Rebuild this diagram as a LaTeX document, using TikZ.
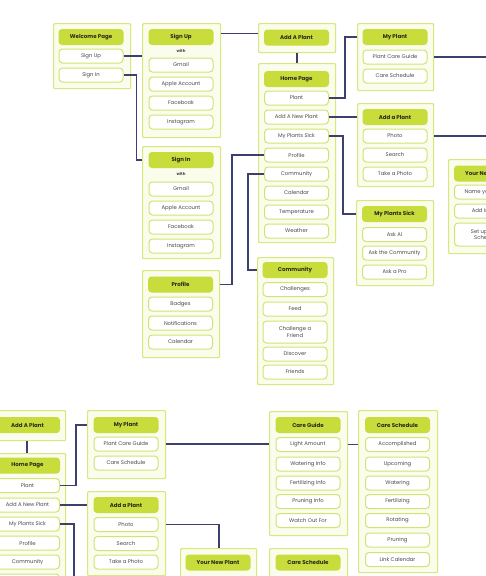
\documentclass[tikz,border=0pt]{standalone}
\usepackage{fontspec}
\setmainfont{Poppins}
\definecolor{contLine}{HTML}{D8E77F}
\definecolor{contFill}{HTML}{FAFCEC}
\definecolor{hdrLime}{HTML}{C8DC3C}
\definecolor{itemLine}{HTML}{D2E375}
\definecolor{itemText}{HTML}{4A4A4A}
\definecolor{hdrText}{HTML}{2B2B1A}
\definecolor{connCol}{HTML}{3D3F6E}
\begin{document}
\begin{tikzpicture}[x=1pt,y=-1pt,
  cont/.style={draw=contLine, fill=contFill, line width=1.2pt, anchor=north west, inner sep=0pt, rounded corners=1pt},
  hdr/.style={fill=hdrLime, rounded corners=3.5pt, minimum width=65pt, minimum height=16pt, inner sep=0pt, font=\fontsize{5.5}{6}\selectfont\bfseries, text=hdrText},
  itm/.style={draw=itemLine, fill=white, rounded corners=3.5pt, line width=1pt, minimum width=64pt, minimum height=14pt, inner sep=0pt, font=\fontsize{5.3}{6.2}\selectfont, text=itemText, align=center},
  wth/.style={font=\fontsize{4}{5}\selectfont\bfseries, text=itemText, inner sep=0pt},
  conn/.style={draw=connCol, line width=1.5pt}
]
\useasboundingbox (0,0) rectangle (486,576);
\clip (0,0) rectangle (486,576);
\fill[white] (0,0) rectangle (486,576);

% ---------- top: welcome ----------
\node[cont, minimum width=77pt, minimum height=65pt] (wC) at (53,23) {};
\node[hdr] (wH) at (91,37) {Welcome Page};
\node[itm] (wSU) at (91,56) {Sign Up};
\node[itm] (wSI) at (91,75) {Sign In};

% sign up
\node[cont, minimum width=78pt, minimum height=114pt] (suC) at (142,23) {};
\node[hdr] (suH) at (181,37) {Sign Up};
\node[wth] (suW) at (181,51) {with};
\node[itm] (suG) at (181,65) {Gmail};
\node[itm] (suA) at (181,84) {Apple Account};
\node[itm] (suF) at (181,103) {Facebook};
\node[itm] (suI) at (181,122) {Instagram};

% sign in
\node[cont, minimum width=78pt, minimum height=112pt] (siC) at (142,146) {};
\node[hdr] (siH) at (181,160) {Sign In};
\node[wth] (siW) at (181,174) {with};
\node[itm] (siG) at (181,189) {Gmail};
\node[itm] (siA) at (181,208) {Apple Account};
\node[itm] (siF) at (181,227) {Facebook};
\node[itm] (siI) at (181,246) {Instagram};

% add a plant (top)
\node[cont, minimum width=77pt, minimum height=29pt] (apC) at (258,23) {};
\node[hdr] (apH) at (296.5,37.5) {Add A Plant};

% home page (top)
\node[cont, minimum width=77pt, minimum height=179pt] (hpC) at (258,63) {};
\node[hdr] (hpH) at (296.5,79) {Home Page};
\node[itm] (hpPl) at (296.5,98) {Plant};
\node[itm] (hpAN) at (296.5,117) {Add A New Plant};
\node[itm] (hpMS) at (296.5,136) {My Plants Sick};
\node[itm] (hpPr) at (296.5,155) {Profile};
\node[itm] (hpCm) at (296.5,174) {Community};
\node[itm] (hpCa) at (296.5,193) {Calendar};
\node[itm] (hpTe) at (296.5,212) {Temperature};
\node[itm] (hpWe) at (296.5,231) {Weather};

% my plant (top)
\node[cont, minimum width=76pt, minimum height=67pt] (mpC) at (357,23) {};
\node[hdr] (mpH) at (395,37) {My Plant};
\node[itm] (mpG) at (395,57) {Plant Care Guide};
\node[itm] (mpS) at (395,76) {Care Schedule};

% add a plant (right)
\node[cont, minimum width=76pt, minimum height=83pt] (arC) at (357,103) {};
\node[hdr] (arH) at (395,117) {Add a Plant};
\node[itm] (arP) at (395,136) {Photo};
\node[itm] (arS) at (395,155) {Search};
\node[itm] (arT) at (395,174) {Take a Photo};

% my plants sick
\node[cont, minimum width=77pt, minimum height=85pt] (msC) at (356,200) {};
\node[hdr] (msH) at (394.5,214) {My Plants Sick};
\node[itm] (msA) at (394.5,234.5) {Ask AI};
\node[itm] (msCo) at (394.5,253) {Ask the Community};
\node[itm] (msP) at (394.5,272) {Ask a Pro};

% your new plant (cut by the right edge, as in the reference)
\node[cont, minimum width=77pt, minimum height=94pt] (ynC) at (448,159) {};
\node[hdr] (ynH) at (486.5,173.5) {Your New Plant};
\node[itm] (ynN) at (486.5,192) {Name your Plant};
\node[itm] (ynA) at (486.5,211) {Add Image};
\node[itm, minimum height=23pt] (ynS) at (486.5,234.5) {Set up Care\\Schedule};

% profile
\node[cont, minimum width=77pt, minimum height=87pt] (prC) at (142,270) {};
\node[hdr] (prH) at (180.5,284.5) {Profile};
\node[itm] (prB) at (180.5,304) {Badges};
\node[itm] (prN) at (180.5,323) {Notifications};
\node[itm] (prCa) at (180.5,342) {Calendar};

% community
\node[cont, minimum width=76pt, minimum height=127pt] (cmC) at (257,257) {};
\node[hdr] (cmH) at (295,270) {Community};
\node[itm] (cmCh) at (295,289.5) {Challenges};
\node[itm] (cmF) at (295,309) {Feed};
\node[itm, minimum height=22pt] (cmCF) at (295,332) {Challenge a\\Friend};
\node[itm] (cmD) at (295,354) {Discover};
\node[itm] (cmFr) at (295,372) {Friends};

% ---------- bottom ----------
\node[cont, minimum width=77pt, minimum height=30pt] (bApC) at (-12,410) {};
\node[hdr] (bApH) at (27.5,425) {Add A Plant};

\node[cont, minimum width=77pt, minimum height=140pt] (bHpC) at (-12,453) {};
\node[hdr] (bHpH) at (27.5,465.5) {Home Page};
\node[itm] (bHpPl) at (27.5,485.5) {Plant};
\node[itm] (bHpAN) at (27.5,505) {Add A New Plant};
\node[itm] (bHpMS) at (27.5,524) {My Plants Sick};
\node[itm] (bHpPr) at (27.5,543) {Profile};
\node[itm] (bHpCm) at (27.5,562) {Community};
\node[itm] (bHpCa) at (27.5,581) {Calendar};

\node[cont, minimum width=78pt, minimum height=68pt] (bMpC) at (87,410) {};
\node[hdr] (bMpH) at (126,425) {My Plant};
\node[itm] (bMpG) at (126,444) {Plant Care Guide};
\node[itm] (bMpS) at (126,463) {Care Schedule};

\node[cont, minimum width=78pt, minimum height=84pt] (bArC) at (87,491) {};
\node[hdr] (bArH) at (126,505) {Add a Plant};
\node[itm] (bArP) at (126,524.5) {Photo};
\node[itm] (bArS) at (126,543.5) {Search};
\node[itm] (bArT) at (126,562) {Take a Photo};

\node[cont, minimum width=76pt, minimum height=40pt] (bYnC) at (180,548) {};
\node[hdr] (bYnH) at (218,562.5) {Your New Plant};

\node[cont, minimum width=78pt, minimum height=124pt] (cgC) at (269,411) {};
\node[hdr] (cgH) at (308,425) {Care Guide};
\node[itm] (cgL) at (308,444.5) {Light Amount};
\node[itm] (cgW) at (308,464) {Watering Info};
\node[itm] (cgF) at (308,483) {Fertilizing Info};
\node[itm] (cgP) at (308,501.5) {Pruning Info};
\node[itm] (cgO) at (308,520.5) {Watch Out For};

\node[cont, minimum width=78pt, minimum height=40pt] (bCsC) at (269,548) {};
\node[hdr] (bCsH) at (308,562.5) {Care Schedule};

\node[cont, minimum width=79pt, minimum height=162pt] (csC) at (358,410) {};
\node[hdr] (csH) at (397.5,425) {Care Schedule};
\node[itm] (csA) at (397.5,444.5) {Accomplished};
\node[itm] (csU) at (397.5,464) {Upcoming};
\node[itm] (csW) at (397.5,483) {Watering};
\node[itm] (csF) at (397.5,501.5) {Fertilizing};
\node[itm] (csR) at (397.5,520.5) {Rotating};
\node[itm] (csP) at (397.5,540) {Pruning};
\node[itm] (csL) at (397.5,559.5) {Link Calendar};

% ---------- connectors ----------
\coordinate (edgeR) at (495,0);
\coordinate (edgeB) at (0,590);
\coordinate (apIn) at ([yshift=4.5pt]apC.west);
\coordinate (k1) at (345,0);
\coordinate (k2) at (343,0);
\coordinate (k3) at (232,0);
\coordinate (k4) at (248,0);
\coordinate (k5) at (76,0);
\coordinate (k6) at (74,0);
\coordinate (k7) at (219,0);

\draw[conn] (wSU.east) -- (wSU.east -| suC.west);
\draw[conn] (wSI.east) -- ++(13,0) |- (siH -| siC.west);
\draw[conn] (apIn) -- (apIn -| suC.east);
\draw[conn] (apC.south) -- (hpC.north);
\draw[conn] (hpPl.east) -| (k1 |- mpH) -- (mpH -| mpC.west);
\draw[conn] (mpG -| mpC.east) -- (mpG -| edgeR);
\draw[conn] (hpAN.east) -- (hpAN.east -| arC.west);
\draw[conn] (arP -| arC.east) -- (arP -| edgeR);
\draw[conn] (hpMS.east) -| (k2 |- msH) -- (msH -| msC.west);
\draw[conn] (hpPr.west) -| (k3 |- prH) -- (prH -| prC.east);
\draw[conn] (hpCm.west) -| (k4 |- cmH) -- (cmH -| cmC.west);

\draw[conn] (bApC.south) -- (bHpC.north);
\draw[conn] (bHpPl.east) -| (k5 |- bMpH) -- (bMpH -| bMpC.west);
\draw[conn] (bHpAN.east) -- (bHpAN.east -| bArC.west);
\draw[conn] (bHpMS.east) -| (k6 |- edgeB);
\draw[conn] (bMpG -| bMpC.east) -- (bMpG -| cgC.west);
\draw[conn] (bArP -| bArC.east) -| (k7 |- bYnC.north);
\draw[conn] (cgL -| cgC.east) -- (cgL -| csC.west);
\end{tikzpicture}
\end{document}
